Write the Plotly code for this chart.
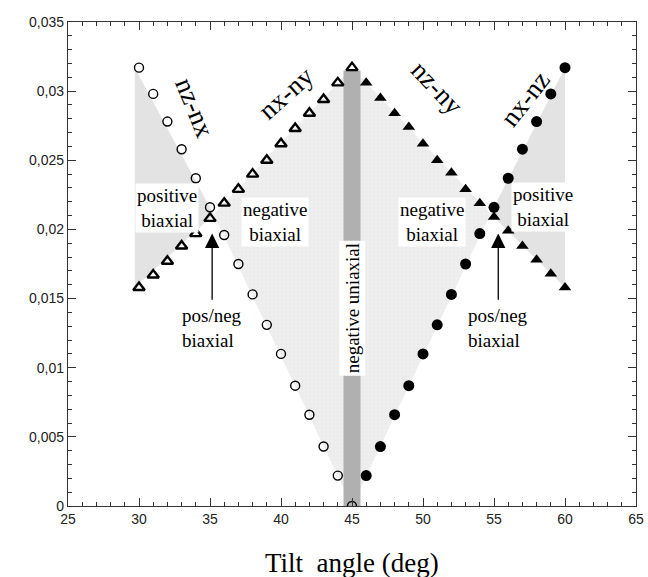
import plotly.graph_objects as go

# ---------------- data ----------------
angle_left = [30, 31, 32, 33, 34, 35, 36, 37, 38, 39, 40, 41, 42, 43, 44, 45]
nz_nx = [0.0317, 0.0298, 0.0278, 0.0258, 0.0237, 0.0216, 0.0196, 0.0175,
         0.0153, 0.0131, 0.0110, 0.0087, 0.0066, 0.0043, 0.0022, 0.0]
nx_ny = [0.0158, 0.0167, 0.0177, 0.0188, 0.0197, 0.0208, 0.0219, 0.0229,
         0.0240, 0.0250, 0.0262, 0.0273, 0.0284, 0.0294, 0.0306, 0.0317]

angle_right = [46, 47, 48, 49, 50, 51, 52, 53, 54, 55, 56, 57, 58, 59, 60]
nz_ny = [0.0306, 0.0295, 0.0284, 0.0274, 0.0262, 0.0250, 0.0241, 0.0229,
         0.0219, 0.0209, 0.0199, 0.0188, 0.0178, 0.0168, 0.0158]
nx_nz = [0.0022, 0.0043, 0.0066, 0.0087, 0.0110, 0.0131, 0.0153, 0.0175,
         0.0197, 0.0216, 0.0237, 0.0258, 0.0278, 0.0298, 0.0317]

uniaxial_angle = [45]
uniaxial_top = [0.0315]

x_ticks = [25, 30, 35, 40, 45, 50, 55, 60, 65]
y_ticks = [0, 0.005, 0.01, 0.015, 0.02, 0.025, 0.03, 0.035]


def crossing(xs, ya, yb):
    for i in range(len(xs) - 1):
        d0 = ya[i] - yb[i]
        d1 = ya[i + 1] - yb[i + 1]
        if d0 == 0:
            return xs[i], ya[i]
        if d0 * d1 < 0:
            t = d0 / (d0 - d1)
            x = xs[i] + t * (xs[i + 1] - xs[i])
            y = ya[i] + t * (ya[i + 1] - ya[i])
            return x, y
    return xs[-1], ya[-1]


cl_x, cl_y = crossing(angle_left, nz_nx, nx_ny)
cr_x, cr_y = crossing(angle_right, nz_ny, nx_nz)

serif = "Liberation Serif, Times New Roman, serif"
sans = "Liberation Sans, Arial, sans-serif"

fig = go.Figure()

# positive biaxial regions (solid light gray)
fig.add_trace(go.Scatter(
    x=[angle_left[0] - 0.3, cl_x, angle_left[0] - 0.3, angle_left[0] - 0.3],
    y=[nz_nx[0], cl_y, nx_ny[0], nz_nx[0]],
    fill="toself", fillcolor="#e3e3e3", mode="none", hoverinfo="skip"))
fig.add_trace(go.Scatter(
    x=[angle_right[-1], cr_x, angle_right[-1], angle_right[-1]],
    y=[nx_nz[-1], cr_y, nz_ny[-1], nx_nz[-1]],
    fill="toself", fillcolor="#e3e3e3", mode="none", hoverinfo="skip"))

# negative biaxial region (fine grid texture)
fig.add_trace(go.Scatter(
    x=[cl_x, angle_left[-1], cr_x, angle_left[-1], cl_x],
    y=[cl_y, nx_ny[-1], cr_y, nz_nx[-1], cl_y],
    fill="toself", fillcolor="#ececec", mode="none", hoverinfo="skip",
    fillpattern=dict(shape="+", size=4, solidity=0.15,
                     fgcolor="#d4d4d4", bgcolor="#efefef")))

# negative uniaxial bar (thick vertical line from 0 to top)
fig.add_trace(go.Scatter(
    x=uniaxial_angle * 2, y=[0] + uniaxial_top, mode="lines",
    line=dict(color="#b0b0b0", width=17), hoverinfo="skip"))

# data series
fig.add_trace(go.Scatter(
    x=angle_left, y=nz_nx, mode="markers", name="nz-nx",
    marker=dict(symbol="circle-open", size=9, color="black",
                line=dict(width=1.4, color="black"))))
fig.add_trace(go.Scatter(
    x=angle_left, y=nx_ny, mode="markers", name="nx-ny",
    marker=dict(symbol="triangle-up-open", size=10, color="black",
                line=dict(width=2.4, color="black"))))
fig.add_trace(go.Scatter(
    x=angle_right, y=nz_ny, mode="markers", name="nz-ny",
    marker=dict(symbol="triangle-up", size=11, color="black")))
fig.add_trace(go.Scatter(
    x=angle_right, y=nx_nz, mode="markers", name="nx-nz",
    marker=dict(symbol="circle", size=11, color="black")))

ann = []
# rotated series labels
for txt, x, y, ang in [("nz-nx", 33.95, 0.0288, 68),
                       ("nx-ny", 40.35, 0.0299, -42),
                       ("nz-ny", 51.0, 0.0302, 47),
                       ("nx-nz", 57.2, 0.0294, -52)]:
    ann.append(dict(x=x, y=y, text=txt, showarrow=False, textangle=ang,
                    font=dict(family=serif, size=27, color="black")))

# region labels with white background
for txt, x, y in [("positive<br>biaxial", 32.0, 0.02155),
                  ("negative<br>biaxial", 39.6, 0.02054),
                  ("negative<br>biaxial", 50.65, 0.02054),
                  ("positive<br>biaxial", 58.45, 0.0216)]:
    ann.append(dict(x=x, y=y, text=txt, showarrow=False,
                    bgcolor="white", borderpad=1,
                    font=dict(family=serif, size=19, color="black")))

ann.append(dict(x=45, y=0.0143, text="negative uniaxial", showarrow=False,
                textangle=-90, bgcolor="white", borderpad=2,
                font=dict(family=serif, size=19, color="black")))

# arrows
for ax_x in [35.15, 55.3]:
    ann.append(dict(x=ax_x, y=0.0197, ax=ax_x, ay=0.0148,
                    xref="x", yref="y", axref="x", ayref="y",
                    showarrow=True, arrowhead=2, arrowsize=2.2,
                    arrowwidth=1.3, arrowcolor="black", text=""))
    ann.append(dict(x=ax_x, y=0.0129, text="pos/neg<br>biaxial",
                    showarrow=False, align="left",
                    font=dict(family=serif, size=19, color="black")))

# x-axis title as a free annotation below the axis
ann.append(dict(x=0.5, y=0, xref="paper", yref="paper", xanchor="center",
                yanchor="top", yshift=-40, showarrow=False,
                text="Tilt  angle (deg)",
                font=dict(family=serif, size=27, color="black")))

fig.update_layout(
    width=648, height=577,
    margin=dict(l=68, r=12, t=22, b=71),
    paper_bgcolor="white", plot_bgcolor="white",
    showlegend=False,
    separators=",.",
    annotations=ann,
)

fig.update_xaxes(
    range=[25, 65], tickvals=x_ticks, ticks="inside", ticklen=8,
    tickwidth=1.2, tickcolor="#333", showgrid=False, zeroline=False,
    showline=True, linecolor="#333", linewidth=1.4, mirror="allticks",
    tickfont=dict(family=sans, size=14, color="#222"),
    minor=dict(dtick=1, ticks="inside", ticklen=4, tickcolor="#333",
               showgrid=False),
    automargin=False,
)
fig.update_yaxes(
    range=[0, 0.035], tickvals=y_ticks, ticks="inside", ticklen=8,
    tickwidth=1.2, tickcolor="#333", showgrid=False, zeroline=False,
    showline=True, linecolor="#333", linewidth=1.4, mirror="allticks",
    tickfont=dict(family=sans, size=14, color="#222"),
    minor=dict(dtick=0.001, ticks="inside", ticklen=4, tickcolor="#333",
               showgrid=False),
    automargin=False,
)

fig.write_html(
    "out.html",
    config={"displayModeBar": False},
    post_script="document.body.style.margin='0';"
                "document.body.style.overflow='hidden';",
)
